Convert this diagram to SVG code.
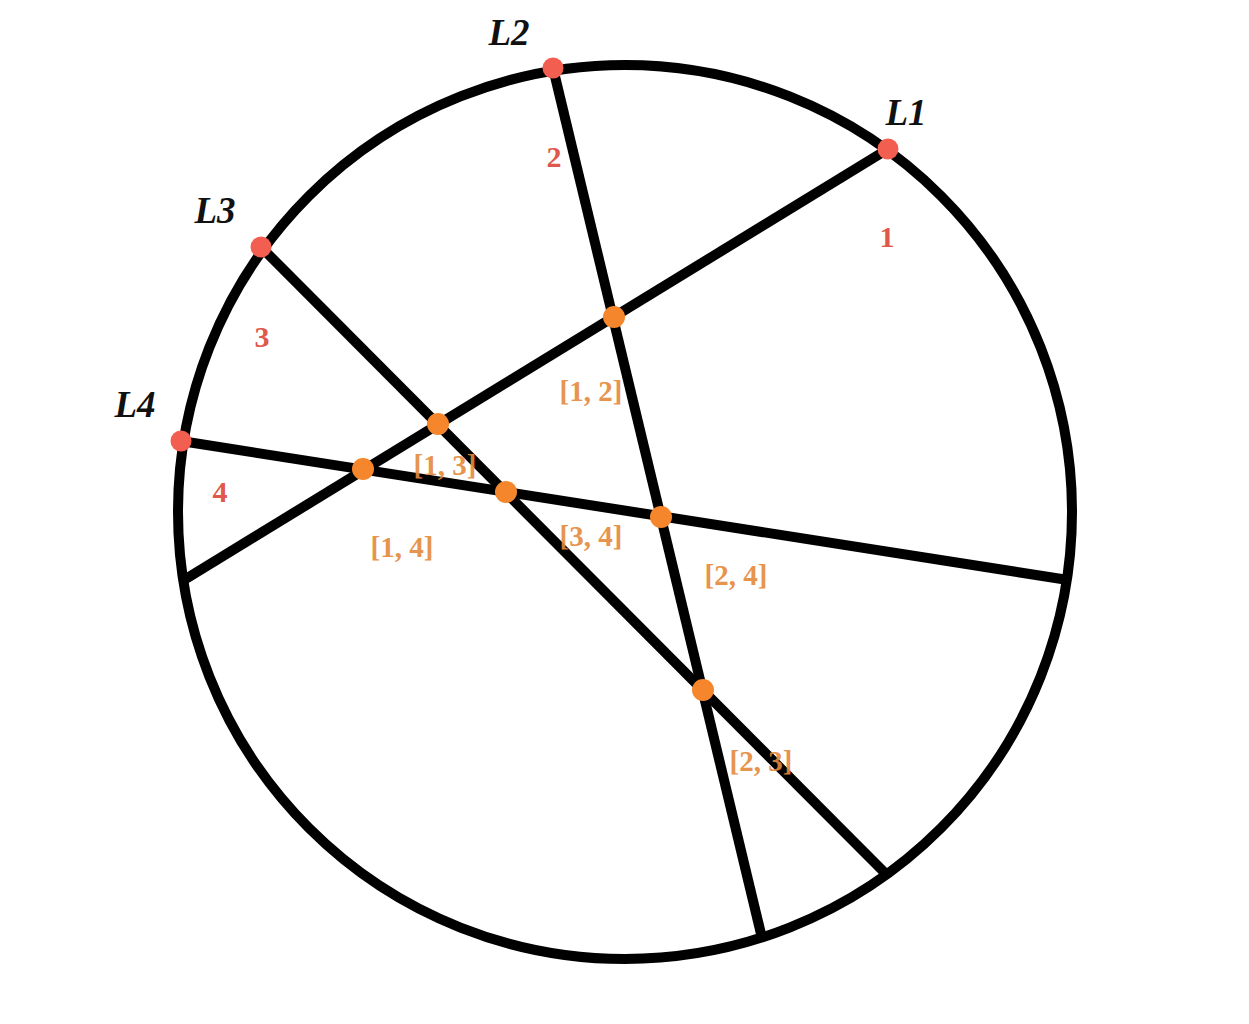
<svg xmlns="http://www.w3.org/2000/svg" width="1249" height="1024" viewBox="0 0 1249 1024">
<style>
.ln{stroke:#000;stroke-width:10;fill:none;stroke-linecap:butt}
.rd{fill:#F25E4F}
.or{fill:#F5862B}
.lab{font-family:"Liberation Serif",serif;font-style:italic;font-weight:bold;font-size:37px;fill:#111;text-anchor:middle}
.num{font-family:"Liberation Serif",serif;font-weight:bold;font-size:30px;fill:#E0574C;text-anchor:middle}
.pair{font-family:"Liberation Serif",serif;font-weight:bold;font-size:29px;fill:#E5893B;text-anchor:middle;opacity:0.9}
</style>
<rect width="1249" height="1024" fill="#fff"/>
<g id="connectors">
<circle class="ln" cx="625" cy="512" r="447"/>
<line class="ln" x1="888" y1="149" x2="184" y2="580"/>
<line class="ln" x1="553" y1="68" x2="762" y2="938"/>
<line class="ln" x1="261" y1="247" x2="885" y2="873"/>
<line class="ln" x1="181" y1="441" x2="1068" y2="580"/>
</g>
<g id="endpoints">
<circle id="p-L1" class="rd" cx="888" cy="149" r="10.5"/>
<circle id="p-L2" class="rd" cx="553" cy="68" r="10.5"/>
<circle id="p-L3" class="rd" cx="261" cy="247" r="10.5"/>
<circle id="p-L4" class="rd" cx="181" cy="441" r="10.5"/>
</g>
<g id="intersections">
<circle id="x12" class="or" cx="614" cy="317" r="11"/>
<circle id="x13" class="or" cx="438" cy="424" r="11"/>
<circle id="x14" class="or" cx="363" cy="469" r="11"/>
<circle id="x34" class="or" cx="506" cy="492" r="11"/>
<circle id="x24" class="or" cx="661" cy="517" r="11"/>
<circle id="x23" class="or" cx="703" cy="690" r="11"/>
</g>
<g id="line-labels">
<text class="lab" x="509" y="45">L2</text>
<text class="lab" x="906" y="125">L1</text>
<text class="lab" x="215" y="223">L3</text>
<text class="lab" x="135" y="417">L4</text>
</g>
<g id="region-labels">
<text class="num" x="554" y="167">2</text>
<text class="num" x="887" y="247">1</text>
<text class="num" x="262" y="347">3</text>
<text class="num" x="220" y="502">4</text>
</g>
<g id="pair-labels">
<text class="pair" x="591" y="401">[1, 2]</text>
<text class="pair" x="445" y="475">[1, 3]</text>
<text class="pair" x="402" y="557">[1, 4]</text>
<text class="pair" x="591" y="546">[3, 4]</text>
<text class="pair" x="736" y="585">[2, 4]</text>
<text class="pair" x="761" y="771">[2, 3]</text>
</g>
</svg>
